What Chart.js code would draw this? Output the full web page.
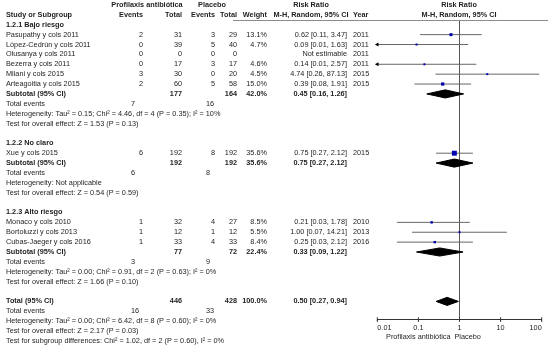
<!DOCTYPE html>
<html>
<head>
<meta charset="utf-8">
<script src="https://cdn.jsdelivr.net/npm/chart.js@4.4.1/dist/chart.umd.min.js"></script>
<style>
    html, body { margin: 0; padding: 0; background: #fff; }
    #wrap { width: 548px; height: 345px; position: relative; }
</style>
</head>
<body>
<div id="wrap"><canvas id="forest"></canvas></div>
<script>
// ===== DATA =====
const studyNames = [
    "Pasupathy y cols 2011", "López-Cedrún y cols 2011", "Olusanya y cols 2011",
    "Bezerra y cols 2011", "Milani y cols 2015", "Arteagoitia y cols 2015",
    "Xue y cols 2015",
    "Monaco y cols 2010", "Bortoluzzi y cols 2013", "Cubas-Jaeger y cols 2016"
];
const studyGroup = [0, 0, 0, 0, 0, 0, 1, 2, 2, 2];
const expEvents = [2, 0, 0, 0, 3, 2, 6, 1, 1, 1];
const expTotal = [31, 39, 0, 17, 30, 60, 192, 32, 12, 33];
const plaEvents = [3, 5, 0, 3, 0, 5, 8, 4, 1, 4];
const plaTotal = [29, 40, 0, 17, 20, 58, 192, 27, 12, 33];
const weights = [13.1, 4.7, null, 4.6, 4.5, 15.0, 35.6, 8.5, 5.5, 8.4];
const riskRatio = [0.62, 0.09, null, 0.14, 4.74, 0.39, 0.75, 0.21, 1.00, 0.25];
const ciLow = [0.11, 0.01, null, 0.01, 0.26, 0.08, 0.27, 0.03, 0.07, 0.03];
const ciHigh = [3.47, 1.63, null, 2.57, 87.13, 1.91, 2.12, 1.78, 14.21, 2.12];
const years = [2011, 2011, 2011, 2011, 2015, 2015, 2015, 2010, 2013, 2016];

const groupNames = ["1.2.1 Bajo riesgo", "1.2.2 No claro", "1.2.3 Alto riesgo"];
const groupExpTotal = [177, 192, 77];
const groupPlaTotal = [164, 192, 72];
const groupExpEvents = [7, 6, 3];
const groupPlaEvents = [16, 8, 9];
const groupWeight = [42.0, 35.6, 22.4];
const groupRR = [0.45, 0.75, 0.33];
const groupLow = [0.16, 0.27, 0.09];
const groupHigh = [1.26, 2.12, 1.22];
const groupHet = [
    "Heterogeneity: Tau² = 0.15; Chi² = 4.46, df = 4 (P = 0.35); I² = 10%",
    "Heterogeneity: Not applicable",
    "Heterogeneity: Tau² = 0.00; Chi² = 0.91, df = 2 (P = 0.63); I² = 0%"
];
const groupTest = [
    "Test for overall effect: Z = 1.53 (P = 0.13)",
    "Test for overall effect: Z = 0.54 (P = 0.59)",
    "Test for overall effect: Z = 1.66 (P = 0.10)"
];

const totalExp = 446, totalPla = 428, totalWeight = 100.0;
const totalExpEvents = 16, totalPlaEvents = 33;
const totalRR = 0.50, totalLow = 0.27, totalHigh = 0.94;
const totalHet = "Heterogeneity: Tau² = 0.00; Chi² = 6.42, df = 8 (P = 0.60); I² = 0%";
const totalTest = "Test for overall effect: Z = 2.17 (P = 0.03)";
const subgroupTest = "Test for subgroup differences: Chi² = 1.02, df = 2 (P = 0.60), I² = 0%";

const axisTicks = [0.01, 0.1, 1, 10, 100];
const axisTickLabels = ["0.01", "0.1", "1", "10", "100"];
const noEffect = 1;
const favoursLeft = "Profilaxis antibiótica";
const favoursRight = "Placebo";

// ===== LAYOUT / STYLE =====
const ROW_H = 9.88;      // px per text line
const ROW0 = 5;          // px of first header line
const PLOT_TOP = 21, PLOT_BOTTOM = 319.5, PLOT_LEFT = 377.3, PLOT_RIGHT = 541.7;
const FONT = '7.3px "Liberation Sans", Arial, sans-serif';
const TEXT = "#1e1e1e";
const COL = { name: 6, expEv: 143, expTot: 182, plaEv: 215, plaTot: 237, weight: 267, rr: 347, year: 353, totEvExp: 131, totEvPla: 206 };
const Y_MIN = (PLOT_TOP - ROW0) / ROW_H;
const Y_MAX = (PLOT_BOTTOM - ROW0) / ROW_H;

const fmtCI = (rr, lo, hi) => rr == null ? "Not estimable"
    : `${rr.toFixed(2)} [${lo.toFixed(2)}, ${hi.toFixed(2)}]`;

// walk the groups to get one line per row
const rows = [];
let r = 2;
groupNames.forEach((g, gi) => {
    rows.push({ row: r++, kind: "title", g: gi });
    studyNames.forEach((s, si) => {
        if (studyGroup[si] === gi) rows.push({ row: r++, kind: "study", s: si });
    });
    rows.push({ row: r++, kind: "subtotal", g: gi });
    rows.push({ row: r++, kind: "events", g: gi });
    rows.push({ row: r++, kind: "het", g: gi });
    rows.push({ row: r++, kind: "test", g: gi });
    r++;
});
const totalRow = r;

// ===== TEXT CELLS =====
const cells = [];
const cell = (text, x, row, align, bold) => cells.push({ text: String(text), x, row, align: align || "left", bold: !!bold });

cell("Profilaxis antibiótica", 147, 0, "center", true);
cell("Placebo", 212, 0, "center", true);
cell("Risk Ratio", 311, 0, "center", true);
cell("Risk Ratio", 459, 0, "center", true);
cell("Study or Subgroup", COL.name, 1, "left", true);
cell("Events", COL.expEv, 1, "right", true);
cell("Total", COL.expTot, 1, "right", true);
cell("Events", COL.plaEv, 1, "right", true);
cell("Total", COL.plaTot, 1, "right", true);
cell("Weight", COL.weight, 1, "right", true);
cell("M-H, Random, 95% CI", 311, 1, "center", true);
cell("Year", COL.year, 1, "left", true);
cell("M-H, Random, 95% CI", 459, 1, "center", true);

rows.forEach(o => {
    const i = o.s, g = o.g;
    if (o.kind === "title") cell(groupNames[g], COL.name, o.row, "left", true);
    if (o.kind === "study") {
        cell(studyNames[i], COL.name, o.row);
        cell(expEvents[i], COL.expEv, o.row, "right");
        cell(expTotal[i], COL.expTot, o.row, "right");
        cell(plaEvents[i], COL.plaEv, o.row, "right");
        cell(plaTotal[i], COL.plaTot, o.row, "right");
        if (weights[i] != null) cell(weights[i].toFixed(1) + "%", COL.weight, o.row, "right");
        cell(fmtCI(riskRatio[i], ciLow[i], ciHigh[i]), COL.rr, o.row, "right");
        cell(years[i], COL.year, o.row);
    }
    if (o.kind === "subtotal") {
        cell("Subtotal (95% CI)", COL.name, o.row, "left", true);
        cell(groupExpTotal[g], COL.expTot, o.row, "right", true);
        cell(groupPlaTotal[g], COL.plaTot, o.row, "right", true);
        cell(groupWeight[g].toFixed(1) + "%", COL.weight, o.row, "right", true);
        cell(fmtCI(groupRR[g], groupLow[g], groupHigh[g]), COL.rr, o.row, "right", true);
    }
    if (o.kind === "events") {
        cell("Total events", COL.name, o.row);
        cell(groupExpEvents[g], COL.totEvExp, o.row);
        cell(groupPlaEvents[g], COL.totEvPla, o.row);
    }
    if (o.kind === "het") cell(groupHet[g], COL.name, o.row);
    if (o.kind === "test") cell(groupTest[g], COL.name, o.row);
});

cell("Total (95% CI)", COL.name, totalRow, "left", true);
cell(totalExp, COL.expTot, totalRow, "right", true);
cell(totalPla, COL.plaTot, totalRow, "right", true);
cell(totalWeight.toFixed(1) + "%", COL.weight, totalRow, "right", true);
cell(fmtCI(totalRR, totalLow, totalHigh), COL.rr, totalRow, "right", true);
cell("Total events", COL.name, totalRow + 1);
cell(totalExpEvents, COL.totEvExp, totalRow + 1);
cell(totalPlaEvents, COL.totEvPla, totalRow + 1);
cell(totalHet, COL.name, totalRow + 2);
cell(totalTest, COL.name, totalRow + 3);
cell(subgroupTest, COL.name, totalRow + 4);

// ===== MARKS =====
const studyRowsList = rows.filter(o => o.kind === "study" && riskRatio[o.s] != null);
const ciData = [];
studyRowsList.forEach(o => {
    ciData.push({ x: ciLow[o.s], y: o.row }, { x: ciHigh[o.s], y: o.row }, { x: null, y: null });
});
const squareData = studyRowsList.map(o => ({ x: riskRatio[o.s], y: o.row, w: weights[o.s] }));
const arrowData = studyRowsList.filter(o => ciLow[o.s] <= axisTicks[0]).map(o => ({ x: axisTicks[0], y: o.row }));
const tickMarkData = axisTicks.map(v => ({ x: v, y: Y_MAX }));

const DIAMOND_H = 0.41;
function diamond(rr, lo, hi, row) {
    return [
        { x: lo, y: row }, { x: rr, y: row - DIAMOND_H },
        { x: hi, y: row }, { x: rr, y: row + DIAMOND_H }, { x: lo, y: row }
    ];
}
const diamondSets = rows.filter(o => o.kind === "subtotal")
    .map(o => diamond(groupRR[o.g], groupLow[o.g], groupHigh[o.g], o.row));
diamondSets.push(diamond(totalRR, totalLow, totalHigh, totalRow));

// ===== PLUGIN: table text =====
const tablePlugin = {
    id: "table",
    afterDraw(chart) {
        const ctx = chart.ctx, ys = chart.scales.y, xs = chart.scales.x;
        ctx.save();
        // header rule
        ctx.strokeStyle = "#8c8c8c";
        ctx.lineWidth = 1;
        ctx.beginPath();
        ctx.moveTo(233, PLOT_TOP - 0.5);
        ctx.lineTo(548, PLOT_TOP - 0.5);
        ctx.stroke();

        ctx.fillStyle = TEXT;
        ctx.textBaseline = "middle";
        cells.forEach(c => {
            ctx.font = (c.bold ? "bold " : "") + FONT;
            ctx.textAlign = c.align;
            ctx.fillText(c.text, c.x, ys.getPixelForValue(c.row));
        });

        // favours labels under the axis
        const one = xs.getPixelForValue(noEffect);
        const ty = chart.chartArea.bottom + 17.5;
        ctx.font = FONT;
        ctx.textAlign = "right";
        ctx.fillText(favoursLeft, one - 9, ty);
        ctx.textAlign = "left";
        ctx.fillText(favoursRight, one - 5, ty);
        ctx.restore();
    }
};

// ===== CHART =====
new Chart(document.getElementById("forest"), {
    type: "scatter",
    data: {
        datasets: [
            {
                label: "squares",
                data: squareData,
                pointStyle: "rect",
                pointRadius: c => Math.max(1.4, 3.5 * Math.sqrt((c.raw && c.raw.w || 1) / 35.6)),
                backgroundColor: "#0000b0",
                borderWidth: 0,
                order: 1,
                clip: false
            },
            {
                label: "arrows",
                data: arrowData,
                pointStyle: "triangle",
                rotation: 270,
                pointRadius: 2.4,
                backgroundColor: "#000",
                borderWidth: 0,
                order: 2,
                clip: false
            },
            {
                type: "line",
                label: "ci",
                data: ciData,
                borderColor: "#666",
                borderWidth: 1,
                pointRadius: 0,
                spanGaps: false,
                fill: false,
                order: 3
            },
            ...diamondSets.map(d => ({
                type: "line",
                label: "diamond",
                data: d,
                borderColor: "#000",
                backgroundColor: "#000",
                borderWidth: 1,
                pointRadius: 0,
                fill: "shape",
                order: 4
            })),
            {
                type: "line",
                label: "no effect",
                data: [{ x: noEffect, y: Y_MIN }, { x: noEffect, y: Y_MAX }],
                borderColor: "#555",
                borderWidth: 1,
                pointRadius: 0,
                fill: false,
                order: 6
            },
            {
                label: "axis ticks",
                data: tickMarkData,
                pointStyle: "line",
                rotation: 90,
                pointRadius: 2.2,
                borderColor: "#333",
                borderWidth: 1,
                order: 5,
                clip: false
            }
        ]
    },
    options: {
        responsive: true,
        maintainAspectRatio: false,
        animation: false,
        events: [],
        devicePixelRatio: 1,
        layout: {
            padding: { left: PLOT_LEFT, right: 548 - PLOT_RIGHT, top: PLOT_TOP, bottom: 0 }
        },
        plugins: {
            legend: { display: false },
            tooltip: { enabled: false }
        },
        scales: {
            x: {
                type: "logarithmic",
                min: axisTicks[0],
                max: axisTicks[axisTicks.length - 1],
                afterBuildTicks: s => { s.ticks = axisTicks.map(v => ({ value: v })); },
                afterFit: s => { s.height = 345 - PLOT_BOTTOM; s.paddingLeft = 0; s.paddingRight = 0; },
                border: { display: true, color: "#333", width: 1 },
                grid: {
                    drawOnChartArea: false,
                    drawTicks: true,
                    tickLength: 2,
                    color: "#333"
                },
                ticks: {
                    autoSkip: false,
                    maxRotation: 0,
                    align: "inner",
                    padding: 2,
                    color: TEXT,
                    font: { family: '"Liberation Sans", Arial, sans-serif', size: 7.3 },
                    callback: (v, i) => axisTickLabels[i]
                }
            },
            y: {
                type: "linear",
                display: false,
                reverse: true,
                min: Y_MIN,
                max: Y_MAX
            }
        }
    },
    plugins: [tablePlugin]
});
</script>
</body>
</html>
